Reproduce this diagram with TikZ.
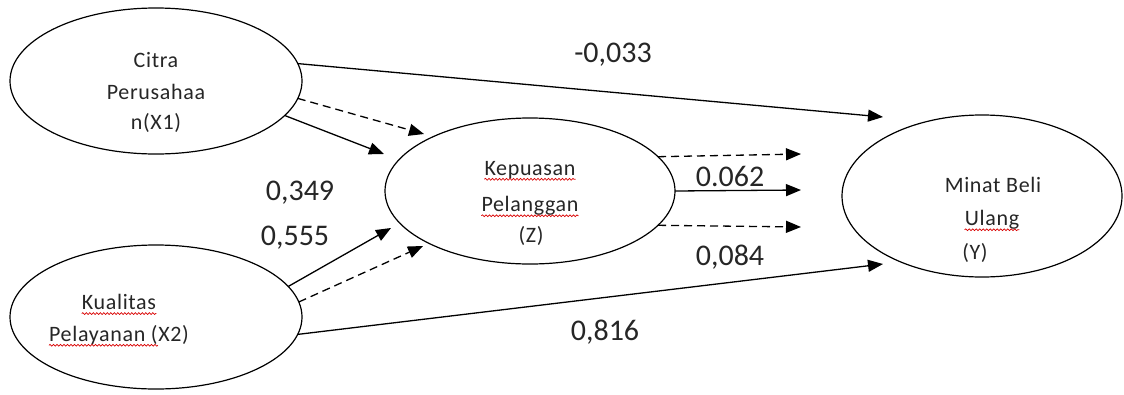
\documentclass[tikz,border=0pt]{standalone}
\usepackage{fontspec}
\setmainfont{Carlito}
\newfontfamily\ovalfont[LetterSpace=3]{Carlito}
\usetikzlibrary{arrows.meta,shapes.geometric,decorations.pathmorphing}
\begin{document}
\begin{tikzpicture}[x=1pt,y=-1pt,
  construct/.style={ellipse,draw,line width=1.2pt,inner sep=0pt,outer sep=0pt},
  ovaltext/.style={font=\ovalfont\fontsize{22}{26}\selectfont,inner sep=0pt,text=black!85},
  coef/.style={font=\fontsize{30}{34}\selectfont,inner sep=0pt,text=black!85},
  path/.style={line width=1.3pt,-{Triangle[length=15pt,width=12pt]}},
  dpath/.style={path,dash pattern=on 8pt off 5pt},
  squiggle/.style={red!85!black,line width=0.7pt,decorate,
    decoration={snake,amplitude=0.9pt,segment length=3.5pt}}]
\useasboundingbox (0,0) rectangle (1124,394);

% latent constructs
\node[construct,minimum width=292pt,minimum height=146pt] (x1) at (156,81) {};
\node[construct,minimum width=292pt,minimum height=144pt] (x2) at (156,317) {};
\node[construct,minimum width=290pt,minimum height=146pt] (z)  at (530,191) {};
\node[construct,minimum width=280pt,minimum height=162pt] (y)  at (982,196) {};

% construct labels
\node[ovaltext] (x1a) at (156,60)  {Citra};
\node[ovaltext] (x1b) at (156,92)  {Perusahaa};
\node[ovaltext] (x1c) at (156,123) {n(X1)};

\node[ovaltext] (x2a) at (119,302) {Kualitas};
\node[ovaltext] (x2b) at (119,335) {Pelayanan (X2)};

\node[ovaltext] (za) at (530,170) {Kepuasan};
\node[ovaltext] (zb) at (530,206) {Pelanggan};
\node[ovaltext] (zc) at (531,236) {(Z)};

\node[ovaltext] (ya) at (993,185) {Minat Beli};
\node[ovaltext] (yb) at (992,220) {Ulang};
\node[ovaltext] (yc) at (975,253) {(Y)};

% spelling marks under the words
\draw[squiggle] ([yshift=-4pt]x2a.base west) -- ([yshift=-4pt]x2a.base east);
\draw[squiggle] ([yshift=-4pt]x2b.base west) -- ++(109,0);
\draw[squiggle] ([yshift=-4pt]za.base west) -- ([yshift=-4pt]za.base east);
\draw[squiggle] ([yshift=-4pt]zb.base west) -- ([yshift=-4pt]zb.base east);
\draw[squiggle] ([yshift=-4pt]yb.base west) -- ([yshift=-4pt]yb.base east);

% arrow tips
\coordinate (t1) at (883,117);
\coordinate (t2) at (424,134);
\coordinate (t3) at (384,154);
\coordinate (t4) at (391,228);
\coordinate (t5) at (423,246);
\coordinate (t6) at (883,264);
\coordinate (t7) at (801,154);
\coordinate (t8) at (801,190);
\coordinate (t9) at (801,227);

% paths
\draw[path]  (x1.7.5)   -- (t1);
\draw[dpath] (x1.-7.5)  -- (t2);
\draw[path]  (x1.-15.7) -- (t3);
\draw[path]  (x2.13.7)  -- (t4);
\draw[dpath] (x2.6.7)   -- (t5);
\draw[path]  (x2.-7.9)  -- (t6);
\draw[dpath] (z.15.3)   -- (t7);
\draw[path]  (z.0)      -- (t8);
\draw[dpath] (z.-15.3)  -- (t9);

% path coefficients
\node[coef] (c1) at (613,55)  {-0,033};
\node[coef] (c2) at (300,193) {0,349};
\node[coef] (c3) at (295,238) {0,555};
\node[coef] (c4) at (605,332) {0,816};
\node[coef] (c5) at (730,176) {0.062};
\node[coef] (c6) at (730,257) {0,084};
\end{tikzpicture}
\end{document}
